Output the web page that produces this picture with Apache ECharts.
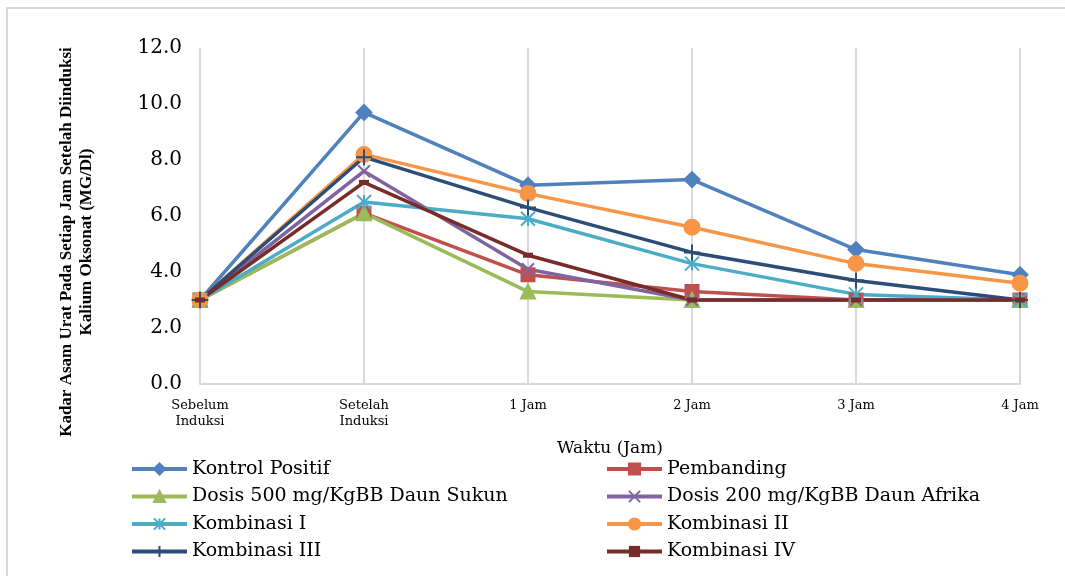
<!DOCTYPE html>
<html>
<head>
<meta charset="utf-8"/>
<title>Kadar Asam Urat</title>
<script type="text/javascript" src="https://cdn.jsdelivr.net/npm/echarts@6/dist/echarts.min.js"></script>
<style type="text/css">
	body{ margin:0; padding:0; background:#fff; }
	#main{ width:1065px; height:576px; }
</style>
</head>
<body>
<div id="main"></div>
<script type="text/javascript">
	// kategori waktu
	var kategori = ['Sebelum\nInduksi', 'Setelah\nInduksi', '1 Jam', '2 Jam', '3 Jam', '4 Jam'];
	// data tiap kelompok
	var kontrolPositif = [3.0, 9.7, 7.1, 7.3, 4.8, 3.9];
	var pembanding = [3.0, 6.1, 3.9, 3.3, 3.0, 3.0];
	var dosisSukun = [3.0, 6.1, 3.3, 3.0, 3.0, 3.0];
	var dosisAfrika = [3.0, 7.6, 4.1, 3.0, 3.0, 3.0];
	var kombinasi1 = [3.0, 6.5, 5.9, 4.3, 3.2, 3.0];
	var kombinasi2 = [3.0, 8.2, 6.8, 5.6, 4.3, 3.6];
	var kombinasi3 = [3.0, 8.1, 6.3, 4.7, 3.7, 3.0];
	var kombinasi4 = [3.0, 7.2, 4.6, 3.0, 3.0, 3.0];
	var namaSeri = ['Kontrol Positif', 'Pembanding', 'Dosis 500 mg/KgBB Daun Sukun', 'Dosis 200 mg/KgBB Daun Afrika',
		'Kombinasi I', 'Kombinasi II', 'Kombinasi III', 'Kombinasi IV'];

	var font = '"Liberation Serif", "Times New Roman", serif';
	// teks mendatar di gambar asli agak melebar
	var fontLebar = '"DejaVu Serif", serif';

	function seri(nama, data, warna, simbol, ukuran, tepi){
		return {
			name: nama,
			type: 'line',
			data: data,
			symbol: simbol,
			symbolSize: ukuran,
			showAllSymbol: true,
			lineStyle: { color: warna, width: 3.5 },
			itemStyle: { color: warna, borderColor: warna, borderWidth: tepi },
			emphasis: { disabled: true }
		};
	}

	function legenda(kiri, daftar){
		return {
			left: kiri,
			top: 454,
			orient: 'vertical',
			itemWidth: 55,
			itemHeight: 14,
			itemGap: 7.5,
			data: daftar,
			lineStyle: { width: 4 },
			textStyle: { fontFamily: fontLebar, fontSize: 19, color: '#000', lineHeight: 20 }
		};
	}

	var myChart = echarts.init(document.getElementById('main'));
	var option = {
		backgroundColor: '#fff',
		animation: false,
		textStyle: { fontFamily: font },
		graphic: [
			{
				type: 'rect',
				shape: { x: 7, y: 8, width: 1070, height: 580 },
				style: { fill: 'none', stroke: '#d9d9d9', lineWidth: 2 },
				silent: true
			},
			{
				type: 'text',
				x: 77,
				y: 242,
				rotation: Math.PI / 2,
				style: {
					text: 'Kadar Asam Urat Pada Setiap Jam Setelah Diinduksi\nKalium Oksonat (MG/Dl)',
					font: 'bold 17px ' + font,
					fill: '#000',
					align: 'center',
					verticalAlign: 'middle',
					lineHeight: 20
				}
			}
		],
		grid: {
			left: 200,
			right: 45,
			top: 48,
			bottom: 192
		},
		legend: [
			legenda(125, [namaSeri[0], namaSeri[2], namaSeri[4], namaSeri[6]]),
			legenda(600, [namaSeri[1], namaSeri[3], namaSeri[5], namaSeri[7]])
		],
		xAxis: {
			type: 'category',
			boundaryGap: false,
			data: kategori,
			name: 'Waktu (Jam)',
			nameLocation: 'middle',
			nameGap: 56,
			nameTextStyle: { fontFamily: fontLebar, fontSize: 17, color: '#000' },
			axisLine: { lineStyle: { color: '#d9d9d9', width: 2 } },
			axisTick: { show: false },
			axisLabel: {
				fontFamily: fontLebar,
				fontSize: 13,
				color: '#000',
				margin: 14,
				lineHeight: 16,
				interval: 0
			},
			splitLine: { show: true, lineStyle: { color: '#d9d9d9', width: 2 } }
		},
		yAxis: {
			type: 'value',
			min: 0,
			max: 12,
			interval: 2,
			axisLine: { show: false },
			axisTick: { show: false },
			splitLine: { show: false },
			axisLabel: {
				fontFamily: fontLebar,
				fontSize: 20,
				color: '#000',
				margin: 18,
				formatter: function(v){ return v.toFixed(1); }
			}
		},
		series: [
			seri(namaSeri[0], kontrolPositif, '#4F81BD', 'diamond', 15, 2),
			seri(namaSeri[1], pembanding, '#C0504D', 'rect', 13, 2),
			seri(namaSeri[2], dosisSukun, '#9BBB59', 'triangle', 14, 2),
			seri(namaSeri[3], dosisAfrika, '#8064A2', 'path://M0,0L10,10M10,0L0,10', 12, 2),
			seri(namaSeri[4], kombinasi1, '#4BACC6', 'path://M5,0L5,10M0,0L10,10M10,0L0,10', 14, 2),
			seri(namaSeri[5], kombinasi2, '#F79646', 'circle', 15, 2),
			seri(namaSeri[6], kombinasi3, '#2C4D75', 'path://M5,0L5,10M0,5L10,5', 16, 2),
			seri(namaSeri[7], kombinasi4, '#772C2A', 'rect', [10, 5], 0)
		]
	};
	myChart.setOption(option);
</script>
</body>
</html>
